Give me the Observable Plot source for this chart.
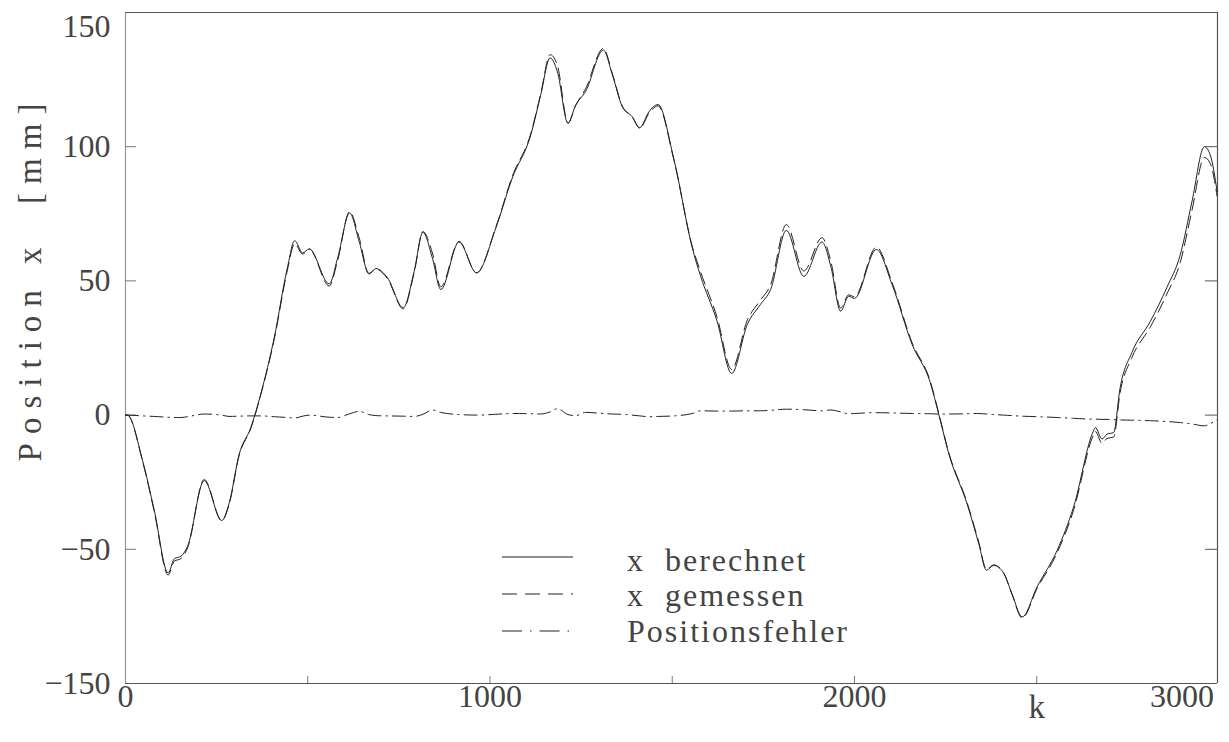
<!DOCTYPE html>
<html>
<head>
<meta charset="utf-8">
<script src="https://cdn.jsdelivr.net/npm/d3@7"></script>
<script src="https://cdn.jsdelivr.net/npm/@observablehq/plot@0.6"></script>
<style>
  body { margin: 0; background: #fff; }
  #chart svg { font-family: "Liberation Serif", serif; }
</style>
</head>
<body>
<div id="chart"></div>
<script>
// ---- data ----
const k = [0, 5, 47, 79, 117, 134, 152, 170, 216, 264, 284, 312, 344, 371, 408, 444, 464, 486, 504, 559, 582, 615, 641, 668, 687, 719, 762, 792, 816, 842, 865, 915, 963, 1016, 1061, 1112, 1139, 1165, 1185, 1214, 1235, 1262, 1311, 1336, 1363, 1390, 1411, 1436, 1461, 1504, 1555, 1578, 1623, 1663, 1706, 1742, 1770, 1813, 1861, 1911, 1935, 1962, 1984, 2000, 2060, 2103, 2158, 2208, 2231, 2259, 2309, 2341, 2362, 2382, 2409, 2432, 2460, 2501, 2556, 2601, 2656, 2661, 2679, 2693, 2711, 2729, 2761, 2812, 2857, 2894, 2926, 2960, 2976, 2995];

const xBerechnet = [0, 0, -17, -35.5, -58.8, -53.5, -52.6, -49, -24.4, -39.3, -33, -14.5, -4.6, 7.8, 28.8, 54.8, 65, 60.4, 61.9, 48.9, 58.5, 75.3, 64.7, 52.6, 54.6, 51.1, 40, 53.6, 68.1, 58.5, 46.8, 64.5, 53, 69.7, 88.3, 104.4, 119.2, 133.1, 127.9, 108.7, 115.5, 120.5, 136, 126.7, 114.9, 111.2, 107.1, 113, 115.7, 95.7, 62.3, 51.7, 35, 15.5, 33.8, 41.2, 46.8, 68.8, 51.7, 64.5, 55.5, 38.7, 44.3, 43.5, 61.7, 48.7, 26.4, 12.1, 0.4, -14.5, -33.1, -47.9, -57.8, -56, -58.8, -66.5, -75.2, -64, -50.4, -34.3, -5.8, -4.6, -8.9, -7.1, -6.5, 10.3, 23.3, 35, 47.5, 59.8, 79.6, 100, 97, 83.3];

const xGemessen = [0, 0, -17.3, -36, -59.6, -54.4, -53.5, -49.6, -24, -39.3, -33.5, -14.9, -4.9, 7.5, 28.2, 53.9, 63.9, 60, 61.9, 48.1, 57.6, 75.8, 66.1, 52.8, 54.4, 50.8, 39.6, 53.1, 68.4, 60.4, 47.8, 64.7, 53, 70, 88.9, 104.9, 119.6, 134.3, 130.3, 108.9, 115.3, 121.5, 136.6, 127.1, 115.2, 111.2, 106.8, 112.4, 115.2, 95.4, 62.9, 53.3, 36.5, 17, 35.4, 42.8, 48.6, 71, 53.7, 66.1, 57.4, 39.9, 44.8, 44.1, 62.6, 49.5, 27, 12.6, 0.8, -14.1, -32.6, -47.3, -57.4, -55.8, -58.8, -66.7, -75.6, -64.6, -51.3, -35.5, -7.3, -6.1, -10.5, -8.7, -8.2, 8.5, 21.4, 32.9, 45.1, 57, 76.3, 96, 93.8, 81.6];

const positionsfehler = [0, 0, -0.3, -0.5, -0.8, -0.9, -0.9, -0.6, 0.4, 0, -0.5, -0.4, -0.3, -0.3, -0.6, -0.9, -1.1, -0.4, 0, -0.8, -0.9, 0.5, 1.4, 0.2, -0.2, -0.3, -0.4, -0.5, 0.3, 1.9, 1.0, 0.2, 0, 0.3, 0.6, 0.5, 0.4, 1.2, 2.4, 0.2, -0.2, 1, 0.6, 0.4, 0.3, 0, -0.3, -0.6, -0.5, -0.3, 0.6, 1.6, 1.5, 1.5, 1.6, 1.6, 1.8, 2.2, 2.0, 1.6, 1.9, 1.2, 0.5, 0.6, 0.9, 0.8, 0.6, 0.5, 0.4, 0.4, 0.5, 0.6, 0.4, 0.2, 0, -0.2, -0.4, -0.6, -0.9, -1.2, -1.5, -1.5, -1.6, -1.6, -1.7, -1.8, -1.9, -2.1, -2.4, -2.8, -3.3, -4.0, -3.2, -1.7];

const xTickValues = [500, 1000, 1500, 2000, 2500];
const xLabelValues = [0, 1000, 2000];
const xLabels = ["0", "1000", "2000"];
const xLastLabelValue = [3000];
const xLastLabel = ["3000"];
const yTickValues = [-50, 0, 50, 100];
const yLabelValues = [-100, -50, 0, 50, 100];
const yLabels = ["\u2212150", "\u221250", "0", "50", "100"];
const yTopLabelValue = [150];
const yTopLabel = ["150"];
const xTitle = ["k"];
const yTitle = ["Position x  [mm]"];
const legendLabels = ["x  berechnet", "x  gemessen", "Positionsfehler"];

// ---- layout ----
const W = 1229, H = 742;
const mL = 125, mR = 12, mT = 12, mB = 59;
const frameW = W - mL - mR, frameH = H - mT - mB;
const xMax = 2996, yMin = -100, yMax = 150;

const rows = k.map((kk, i) => ({k: kk, berechnet: xBerechnet[i], gemessen: xGemessen[i], fehler: positionsfehler[i]}));

const ink = "#222";
const textColor = "#444";

const plot = Plot.plot({
  width: W, height: H,
  marginLeft: mL, marginRight: mR, marginTop: mT, marginBottom: mB,
  x: {domain: [0, xMax], axis: null},
  y: {domain: [yMin, yMax], axis: null},
  style: {fontFamily: "'Liberation Serif', serif", fontSize: "32px", color: textColor, background: "white", overflow: "visible"},
  marks: [
    // frame
    Plot.ruleX([0], {stroke: "#999", strokeWidth: 1.2}),
    Plot.ruleX([xMax], {stroke: "#555", strokeWidth: 1.2}),
    Plot.ruleY([yMin], {stroke: "#555", strokeWidth: 1.2}),
    Plot.ruleY([yMax], {stroke: "#555", strokeWidth: 1.2}),
    // inward ticks
    Plot.tickX(xTickValues, {x: d => d, insetTop: frameH - 7, stroke: "#777"}),
    Plot.tickY(yTickValues, {y: d => d, insetRight: frameW - 11, stroke: "#777"}),
    Plot.tickY(yTickValues, {y: d => d, insetLeft: frameW - 12, stroke: "#555"}),
    // data lines
    Plot.line(rows, {x: "k", y: "gemessen", stroke: ink, strokeWidth: 1, strokeDasharray: "12,6", curve: "monotone-x"}),
    Plot.line(rows, {x: "k", y: "berechnet", stroke: ink, strokeWidth: 1, curve: "monotone-x"}),
    Plot.line(rows, {x: "k", y: "fehler", stroke: ink, strokeWidth: 1, strokeDasharray: "13,5,1.5,5", curve: "monotone-x"}),
    // tick labels
    Plot.text(xLabelValues, {x: d => d, text: (d, i) => xLabels[i], frameAnchor: "bottom", dy: 23, fill: textColor, fontSize: 32}),
    Plot.text(xLastLabelValue, {x: d => d, text: (d, i) => xLastLabel[i], frameAnchor: "bottom", dy: 23, dx: -5, textAnchor: "end", fill: textColor, fontSize: 32}),
    Plot.text(yLabelValues, {y: d => d, text: (d, i) => yLabels[i], frameAnchor: "left", dx: -15, dy: 0, textAnchor: "end", fill: textColor, fontSize: 32}),
    Plot.text(yTopLabelValue, {y: d => d, text: (d, i) => yTopLabel[i], frameAnchor: "left", dx: -15, dy: 14, textAnchor: "end", fill: textColor, fontSize: 32}),
    // axis titles
    Plot.text(xTitle, {x: 2500, text: d => d, frameAnchor: "bottom", dy: 34, fill: textColor, fontSize: 33}),
    Plot.text(yTitle, {text: d => d, frameAnchor: "left", dx: -95, dy: -70, rotate: -90, textAnchor: "middle", fill: textColor, fontSize: 33, className: "ytitle"})
  ]
});

const svg = d3.select(plot);
// widely spaced y title like the reference
svg.selectAll(".ytitle text").style("letter-spacing", "9px").style("white-space", "pre");

// legend inside the frame
const lg = svg.append("g").attr("font-family", "'Liberation Serif', serif").attr("font-size", 32)
  .attr("fill", textColor).attr("text-anchor", "start");
const dashes = [null, "15,8", "20,8,1.5,8"];
const lineY = [557, 594, 631];
const textY = [571, 606, 642];
legendLabels.forEach((lab, i) => {
  lg.append("line").attr("x1", 502).attr("x2", 573).attr("y1", lineY[i]).attr("y2", lineY[i])
    .attr("stroke", ink).attr("stroke-width", 1).attr("stroke-dasharray", dashes[i]);
  lg.append("text").attr("x", 627).attr("y", textY[i]).attr("text-anchor", "start")
    .style("letter-spacing", "2px").style("white-space", "pre").text(lab);
});

document.getElementById("chart").appendChild(plot);
</script>
</body>
</html>
